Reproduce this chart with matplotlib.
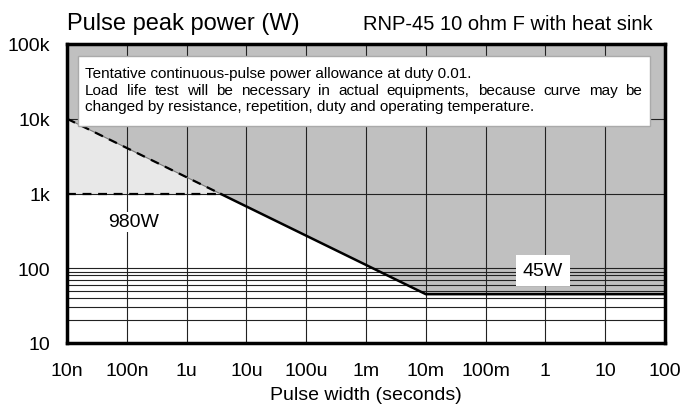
import numpy as np
import matplotlib
matplotlib.use("Agg")
import matplotlib.pyplot as plt
from matplotlib.patches import Rectangle

plt.rcParams['font.family'] = ['Liberation Sans', 'DejaVu Sans']

# -----------------------------
# data
# -----------------------------
x_ticks = [1e-8, 1e-7, 1e-6, 1e-5, 1e-4, 1e-3, 1e-2, 1e-1, 1e0, 1e1, 1e2]
x_labels = ["10n", "100n", "1u", "10u", "100u", "1m", "10m", "100m", "1", "10", "100"]
y_ticks = [10, 100, 1e3, 1e4, 1e5]
y_labels = ["10", "100", "1k", "10k", "100k"]
y_minor = [20, 30, 40, 50, 60, 70, 80, 90]

# allowance curve: 10k at 10n down to 45W at 10m, flat to 100s
curve_x = [1e-8, 1e-2, 1e2]
curve_y = [1e4, 45, 45]
limit_w = 980  # peak power limit

# where the sloped line crosses 980 W (log-log)
lx = np.log10(curve_x[:2])
ly = np.log10(curve_y[:2])
x_cross = 10 ** (lx[0] + (np.log10(limit_w) - ly[0]) * (lx[1] - lx[0]) / (ly[1] - ly[0]))

notes = [
    "Tentative continuous-pulse power allowance at duty 0.01.",
    "Load life test will be necessary in actual equipments, because curve may be",
    "changed by resistance, repetition, duty and operating temperature.",
]

# -----------------------------
# figure
# -----------------------------
fig = plt.figure(figsize=(6.8, 4.06), dpi=100)
ax = fig.add_axes([67 / 680, 62 / 406, 598 / 680, 299 / 406])
ax.set_xscale("log")
ax.set_yscale("log")
ax.set_xlim(1e-8, 1e2)
ax.set_ylim(10, 1e5)

# shaded areas
ax.fill_between(curve_x, curve_y, 1e5, color="#c0c0c0", lw=0, zorder=1)
ax.fill_between([curve_x[0], x_cross], [curve_y[0], limit_w], limit_w,
                color="#e8e8e8", lw=0, zorder=1)

# grid
for xv in x_ticks:
    ax.axvline(xv, color="#222222", lw=0.8, zorder=2)
for yv in y_ticks:
    ax.axhline(yv, color="#222222", lw=0.8, zorder=2)
for yv in y_minor:
    ax.axhline(yv, color="#222222", lw=0.8, zorder=2)

# curves
ax.plot([curve_x[0], x_cross], [curve_y[0], limit_w], color="#777777", lw=0.8, zorder=3)
ax.plot([curve_x[0], x_cross], [curve_y[0], limit_w], color="black", lw=1.6,
        ls=(0, (4, 3)), zorder=4)
ax.plot([x_cross, curve_x[1], curve_x[2]], [limit_w, curve_y[1], curve_y[2]],
        color="black", lw=1.8, zorder=4)
ax.plot([curve_x[0], x_cross], [limit_w, limit_w], color="black", lw=1.6,
        ls=(0, (4, 3)), zorder=4)

# note box
ax.add_patch(Rectangle((0.018, 0.726), 0.957, 0.234, transform=ax.transAxes,
                       facecolor="white", edgecolor="#aaaaaa", lw=1, zorder=5))
fig.canvas.draw()
renderer = fig.canvas.get_renderer()
x0, x1 = 0.03, 0.962  # left / right edge of note text (axes fraction)
for i, line in enumerate(notes):
    yy = 0.903 - i * 0.056
    if i != 1:
        ax.text(x0, yy, line, transform=ax.transAxes, fontsize=11,
                va="center", ha="left", zorder=6)
        continue
    # justified middle line
    words = line.split(" ")
    arts = [ax.text(0, yy, w, transform=ax.transAxes, fontsize=11,
                    va="center", ha="left", zorder=6) for w in words]
    ax_w = ax.get_window_extent(renderer).width
    widths = [a.get_window_extent(renderer).width / ax_w for a in arts]
    gap = (x1 - x0 - sum(widths)) / (len(words) - 1)
    pos = x0
    for a, w in zip(arts, widths):
        a.set_x(pos)
        pos += w + gap

ax.text(0.112, 0.405, "980W", transform=ax.transAxes, fontsize=14, ha="center",
        va="center", zorder=6,
        bbox=dict(facecolor="white", edgecolor="none", pad=1))
ax.text(0.796, 0.244, "45W", transform=ax.transAxes, fontsize=14, ha="center",
        va="center", zorder=6,
        bbox=dict(facecolor="white", edgecolor="none", pad=5))

# axes
ax.set_xticks(x_ticks)
ax.set_xticklabels(x_labels)
ax.set_yticks(y_ticks)
ax.set_yticklabels(y_labels)
ax.minorticks_off()
ax.tick_params(length=0, labelsize=14)
ax.tick_params(axis="x", pad=14)
ax.tick_params(axis="y", pad=12)
for s in ax.spines.values():
    s.set_linewidth(2.5)
    s.set_zorder(7)

ax.set_xlabel("Pulse width (seconds)", fontsize=14, labelpad=5)
fig.text(67 / 680, 376 / 406, "Pulse peak power (W)", fontsize=17, va="baseline")
fig.text(653 / 680, 376 / 406, "RNP-45 10 ohm F with heat sink", fontsize=14.5,
         va="baseline", ha="right")

fig.savefig("out.png", dpi=100)
